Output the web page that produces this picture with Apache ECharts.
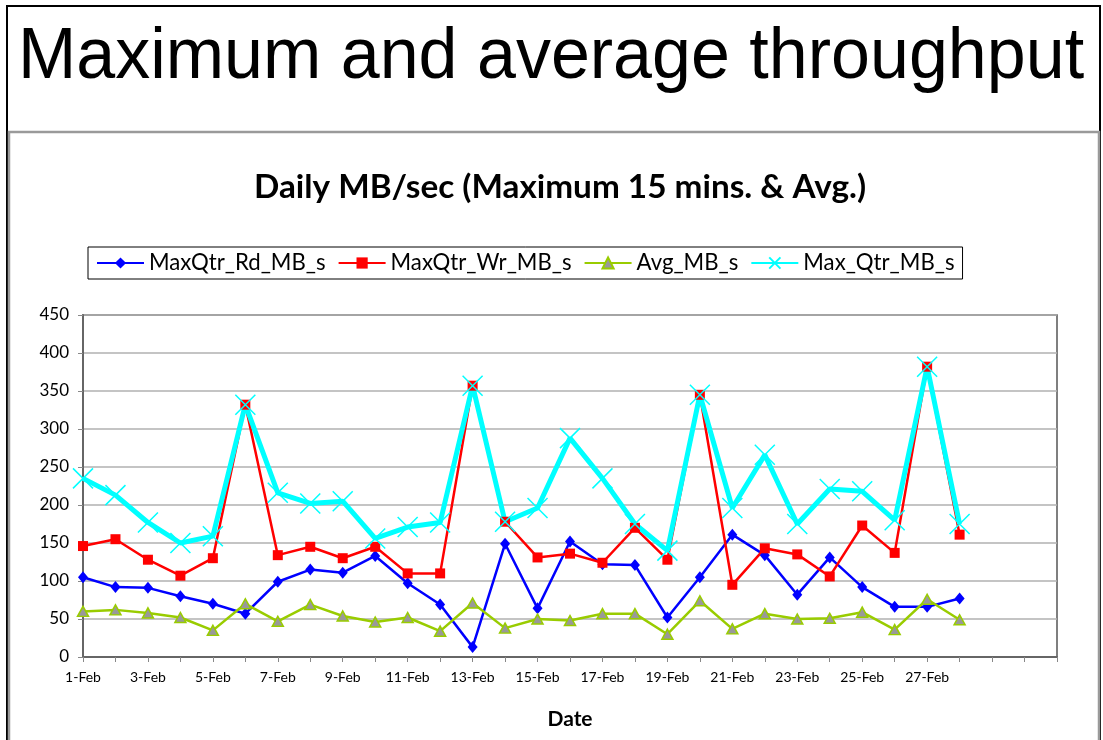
<!DOCTYPE html>
<html>
<head>
<meta charset="utf-8">
<script src="https://cdn.jsdelivr.net/npm/echarts@6/dist/echarts.min.js"></script>
<style>
  html, body { margin: 0; padding: 0; background: #fff; }
  #chart { width: 1103px; height: 740px; }
</style>
</head>
<body>
<div id="chart"></div>
<script>
// Daily throughput, February (MB/sec)
const dates = ['1-Feb','2-Feb','3-Feb','4-Feb','5-Feb','6-Feb','7-Feb','8-Feb','9-Feb','10-Feb',
  '11-Feb','12-Feb','13-Feb','14-Feb','15-Feb','16-Feb','17-Feb','18-Feb','19-Feb','20-Feb',
  '21-Feb','22-Feb','23-Feb','24-Feb','25-Feb','26-Feb','27-Feb','28-Feb','','',''];
const maxQtrRd = [105, 92, 91, 80, 70, 57, 99, 115, 111, 133, 97, 69, 13, 149, 64, 152, 122, 121, 52, 105, 161, 134, 82, 131, 92, 66, 66, 77];
const maxQtrWr = [146, 155, 128, 107, 130, 332, 134, 145, 130, 145, 110, 110, 357, 178, 131, 136, 124, 170, 128, 345, 95, 143, 135, 106, 173, 137, 382, 161];
const avgMB = [60, 62, 58, 52, 35, 70, 47, 69, 54, 46, 52, 34, 71, 38, 50, 48, 57, 57, 30, 74, 37, 57, 50, 51, 59, 36, 76, 49];
const maxQtr = [235, 213, 177, 150, 159, 332, 216, 202, 205, 156, 171, 177, 357, 178, 196, 288, 235, 175, 140, 345, 196, 266, 175, 221, 218, 180, 382, 175];
const yTicks = { min: 0, max: 450, interval: 50 };

const chart = echarts.init(document.getElementById('chart'));
const crossPath = 'path://M0,0L20,20M20,0L0,20';

chart.setOption({
  animation: false,
  backgroundColor: '#fff',
  textStyle: { fontFamily: 'Lato' },
  graphic: [
    { type: 'rect', silent: true, z: -10,
      shape: { x: 7, y: 6, width: 1093, height: 800 },
      style: { fill: 'none', stroke: '#000', lineWidth: 2 } },
    { type: 'rect', silent: true, z: -9,
      shape: { x: 9, y: 132, width: 1090, height: 700 },
      style: { fill: 'none', stroke: '#9a9a9a', lineWidth: 2.5 } },
    { type: 'text', silent: true,
      x: 551, y: 58, scaleY: 1.04,
      style: { text: 'Maximum and average throughput', font: '70px "Liberation Sans", Arial, sans-serif',
               fill: '#000', textAlign: 'center', textVerticalAlign: 'middle' } },
    { type: 'text', silent: true,
      x: 560, y: 187,
      style: { text: 'Daily MB/sec (Maximum 15 mins. & Avg.)', font: 'bold 33.3px Lato, sans-serif',
               fill: '#000', textAlign: 'center', textVerticalAlign: 'middle' } }
  ],
  legend: {
    left: 88, top: 247,
    padding: [5, 8, 5, 8],
    borderColor: '#000', borderWidth: 1,
    itemWidth: 47, itemHeight: 14, itemGap: 12,
    textStyle: { fontFamily: 'Lato', fontSize: 22.2, color: '#000' },
    data: ['MaxQtr_Rd_MB_s', 'MaxQtr_Wr_MB_s', 'Avg_MB_s', 'Max_Qtr_MB_s']
  },
  grid: {
    left: 83, right: 46, top: 315, bottom: 83,
    show: true, borderColor: '#555', borderWidth: 1.5, backgroundColor: 'transparent'
  },
  xAxis: {
    type: 'category',
    data: dates,
    boundaryGap: false,
    name: 'Date',
    nameLocation: 'middle',
    nameGap: 52,
    nameTextStyle: { fontFamily: 'Lato', fontWeight: 'bold', fontSize: 21, color: '#000' },
    axisLine: { lineStyle: { color: '#666', width: 2 } },
    axisTick: { show: true, interval: 0, length: 5, lineStyle: { color: '#888', width: 1 } },
    axisLabel: { interval: 1, fontFamily: 'Lato', fontSize: 14, color: '#000', margin: 13 },
    splitLine: { show: false }
  },
  yAxis: {
    type: 'value',
    min: yTicks.min, max: yTicks.max, interval: yTicks.interval,
    axisLine: { show: true, lineStyle: { color: '#666', width: 2 } },
    axisTick: { show: true, length: 5, lineStyle: { color: '#888', width: 1 } },
    axisLabel: { fontFamily: 'Lato', fontSize: 17, color: '#000', margin: 14 },
    splitLine: { show: true, lineStyle: { color: '#b0b0b0', width: 1.5 } }
  },
  series: [
    { name: 'MaxQtr_Rd_MB_s', type: 'line', data: maxQtrRd,
      symbol: 'diamond', symbolSize: [10, 12],
      lineStyle: { color: '#0000ff', width: 2.5 },
      itemStyle: { color: '#0000ff' } },
    { name: 'MaxQtr_Wr_MB_s', type: 'line', data: maxQtrWr,
      symbol: 'rect', symbolSize: 10,
      lineStyle: { color: '#ff0000', width: 2.5 },
      itemStyle: { color: '#ff0000' } },
    { name: 'Avg_MB_s', type: 'line', data: avgMB,
      symbol: 'triangle', symbolSize: [11, 10],
      lineStyle: { color: '#99cc00', width: 2.5 },
      itemStyle: { color: '#999999', borderColor: '#99cc00', borderWidth: 1.5 } },
    { name: 'Max_Qtr_MB_s', type: 'line', data: maxQtr,
      symbol: crossPath, symbolSize: 20,
      lineStyle: { color: '#00ffff', width: 5 },
      itemStyle: { color: '#00ffff', borderColor: '#00ffff', borderWidth: 1.5 } }
  ]
});
</script>
</body>
</html>
